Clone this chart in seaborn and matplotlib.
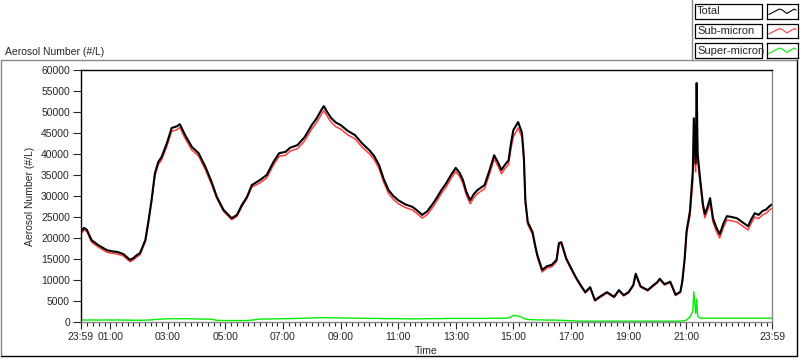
import pandas as pd
import matplotlib
matplotlib.use("Agg")
import matplotlib.pyplot as plt
import matplotlib.dates as mdates
from matplotlib.lines import Line2D
from matplotlib.patches import Rectangle
import seaborn as sns

# clock times (first one is 23:59 of the previous day)
times = ["23:59", "00:05", "00:11", "00:21", "00:35", "00:53", "01:05", "01:14", "01:27", "01:41",
         "01:48", "01:55", "02:02", "02:13", "02:19", "02:26", "02:33", "02:40", "02:47", "02:58",
         "03:08", "03:19", "03:25", "03:36", "03:50", "04:04", "04:18", "04:31", "04:42", "04:56",
         "05:13", "05:24", "05:34", "05:45", "05:55", "06:12", "06:26", "06:40", "06:52", "07:05",
         "07:15", "07:30", "07:45", "08:00", "08:10", "08:20", "08:25", "08:32", "08:40", "08:50",
         "09:00", "09:15", "09:30", "09:45", "10:00", "10:10", "10:20", "10:30", "10:40", "10:50",
         "11:00", "11:15", "11:30", "11:40", "11:50", "12:00", "12:10", "12:20", "12:30", "12:40",
         "12:50", "13:00", "13:08", "13:15", "13:22", "13:30", "13:38", "13:45", "14:00", "14:10",
         "14:20", "14:28", "14:35", "14:43", "14:50", "14:55", "15:00", "15:10", "15:18", "15:22",
         "15:25", "15:30", "15:40", "15:45", "15:50", "16:00", "16:10", "16:20", "16:30", "16:35",
         "16:40", "16:50", "17:00", "17:10", "17:20", "17:30", "17:40", "17:50", "18:00", "18:15",
         "18:30", "18:40", "18:50", "19:00", "19:10", "19:15", "19:25", "19:40", "19:50", "20:00",
         "20:05", "20:15", "20:27", "20:38", "20:48", "20:52", "20:57", "21:01", "21:08", "21:14",
         "21:16", "21:20", "21:22", "21:24", "21:29", "21:35", "21:39", "21:45", "21:50", "21:56",
         "22:03", "22:10", "22:18", "22:25", "22:35", "22:46", "22:57", "23:09", "23:16", "23:23",
         "23:31", "23:39", "23:47", "23:54", "23:59"]

total = [21500, 22400, 22000, 19500, 18300, 17100, 16800, 16700, 16200, 14800,
         15200, 15900, 16400, 19500, 23600, 29000, 35400, 38100, 39300, 42600,
         46200, 46600, 47100, 44500, 41700, 40200, 37000, 33400, 29800, 26700,
         24700, 25500, 27800, 29800, 32600, 33800, 35000, 38100, 40200, 40500,
         41500, 42100, 44000, 46900, 48500, 50500, 51400, 50000, 48600, 47500,
         46900, 45500, 44500, 42500, 40900, 39500, 37400, 34000, 31400, 30000,
         29000, 28000, 27400, 26500, 25500, 26300, 27800, 29500, 31400, 33000,
         35000, 36700, 35500, 33800, 31000, 29000, 30500, 31400, 32600, 36000,
         39700, 38000, 36200, 37500, 38500, 42500, 45700, 47600, 45000, 39000,
         29000, 23800, 21400, 18500, 15900, 12400, 13300, 13600, 14800, 18800,
         19000, 15200, 12900, 10700, 8800, 7100, 8300, 5200, 6000, 7100,
         6000, 7600, 6400, 7100, 8800, 11500, 8500, 7600, 8600, 9500,
         10300, 9000, 9600, 6500, 7200, 9600, 15100, 21600, 26400, 36000,
         48500, 37700, 56900, 40100, 34300, 28100, 25700, 27500, 29500, 24700,
         22500, 20900, 23500, 25200, 25000, 24700, 23800, 22800, 24500, 25900,
         25500, 26400, 26800, 27600, 28000]

sub_micron = [21000, 21900, 21550, 19000, 17850, 16600, 16350, 16200, 15750, 14350,
              14800, 15450, 16000, 19050, 23100, 28500, 34800, 37450, 38600, 41850,
              45400, 45800, 46350, 43700, 40950, 39500, 36300, 32750, 29400, 26350,
              24350, 25150, 27450, 29450, 32150, 33100, 34300, 37350, 39450, 39700,
              40700, 41250, 43100, 45950, 47500, 49450, 50350, 49000, 47600, 46500,
              45950, 44550, 43600, 41600, 40050, 38650, 36550, 33200, 30600, 29200,
              28200, 27250, 26650, 25750, 24750, 25500, 27000, 28700, 30600, 32150,
              34150, 35850, 34650, 32950, 30150, 28150, 29650, 30550, 31750, 35100,
              38800, 37100, 35300, 36600, 37500, 41300, 44100, 46200, 43900, 38100,
              28300, 23200, 20850, 18000, 15400, 11900, 12850, 13150, 14350, 18400,
              18600, 14850, 12600, 10450, 8600, 6900, 8100, 5000, 5800, 6900,
              5800, 7400, 6200, 6900, 8600, 11300, 8300, 7400, 8400, 9300,
              10100, 8800, 9400, 6300, 7000, 9350, 14800, 21100, 25200, 33500,
              41300, 35700, 51400, 38600, 33400, 27200, 24800, 26600, 28600, 23800,
              21600, 20000, 22600, 24300, 24100, 23800, 22900, 21900, 23600, 25000,
              24600, 25500, 25900, 26700, 27100]

super_micron = [500, 500, 450, 500, 450, 500, 450, 500, 450, 450,
                400, 450, 400, 450, 500, 500, 600, 650, 700, 750,
                800, 800, 750, 800, 750, 700, 700, 650, 400, 350,
                350, 350, 350, 350, 450, 700, 700, 750, 750, 800,
                800, 850, 900, 950, 1000, 1050, 1050, 1000, 1000, 1000,
                950, 950, 900, 900, 850, 850, 850, 800, 800, 800,
                800, 750, 750, 750, 750, 800, 800, 800, 800, 850,
                850, 850, 850, 850, 850, 850, 850, 850, 850, 900,
                900, 900, 900, 900, 1000, 1200, 1600, 1400, 1100, 900,
                700, 600, 550, 500, 500, 500, 450, 450, 450, 400,
                400, 350, 300, 250, 200, 200, 200, 200, 200, 200,
                200, 200, 200, 200, 200, 200, 200, 200, 200, 200,
                200, 200, 200, 200, 200, 250, 300, 500, 1200, 2500,
                7200, 2000, 5500, 1500, 900, 900, 900, 900, 900, 900,
                900, 900, 900, 900, 900, 900, 900, 900, 900, 900,
                900, 900, 900, 900, 900]

series_names = ["Total", "Sub-micron", "Super-micron"]
series_colors = ["#000000", "#ff3b3b", "#00ee00"]
x_tick_labels = ["23:59", "01:00", "03:00", "05:00", "07:00", "09:00", "11:00",
                 "13:00", "15:00", "17:00", "19:00", "21:00", "23:59"]
y_ticks = list(range(0, 60001, 5000))

sns.set_style("ticks")
plt.rcParams["font.family"] = ["Liberation Sans", "DejaVu Sans"]
plt.rcParams["font.size"] = 7.5


def stamp_list(labels):
    # first label belongs to the previous day
    return ([pd.Timestamp("2000-01-01 " + labels[0])] +
            [pd.Timestamp("2000-01-02 " + t) for t in labels[1:]])


df = pd.DataFrame({"Time": stamp_list(times), "Total": total,
                   "Sub-micron": sub_micron, "Super-micron": super_micron})
tick_stamps = stamp_list(x_tick_labels)

W, H = 800, 361
fig = plt.figure(figsize=(W / 100, H / 100), dpi=100)
fig.patch.set_facecolor("white")


def fx(x):
    return x / W


def fy(y):
    return 1 - y / H


ax = fig.add_axes([fx(81), fy(322), fx(772) - fx(81), fy(70) - fy(322)])
sns.lineplot(data=df, x="Time", y="Super-micron", color=series_colors[2], lw=1.0, ax=ax)
sns.lineplot(data=df, x="Time", y="Sub-micron", color=series_colors[1], lw=1.1, ax=ax)
sns.lineplot(data=df, x="Time", y="Total", color=series_colors[0], lw=1.5, ax=ax)

ax.set_xlim(tick_stamps[0], tick_stamps[-1])
ax.set_ylim(0, 60000)
ax.set_yticks(y_ticks)
ax.set_xticks(tick_stamps)
ax.xaxis.set_major_formatter(mdates.DateFormatter("%H:%M"))
ax.xaxis.set_minor_locator(mdates.MinuteLocator(byminute=[0, 12, 24, 36, 48]))
ax.tick_params(axis="x", which="major", length=5, width=0.8, pad=2, labelsize=7.5)
ax.tick_params(axis="x", which="minor", length=3, width=0.8)
ax.tick_params(axis="y", which="major", length=6, width=0.8, pad=2, labelsize=7.5)

for side in ["left", "top"]:
    ax.spines[side].set_visible(True)
    ax.spines[side].set_color("black")
    ax.spines[side].set_linewidth(1.0)
for side in ["right", "bottom"]:
    ax.spines[side].set_visible(True)
    ax.spines[side].set_color("#888888")
    ax.spines[side].set_linewidth(1.0)

ax.set_xlabel("Time")
ax.xaxis.set_label_coords(0.5, -0.115)
ax.xaxis.label.set_va("center")
ax.set_ylabel("Aerosol Number (#/L)")
ax.yaxis.set_label_coords((30 - 81) / 691, 0.5)
ax.yaxis.label.set_va("center")

fig.text(fx(5), fy(52), "Aerosol Number (#/L)", ha="left", va="center")

# panel frame
fig.add_artist(Line2D([fx(0.5), fx(797)], [fy(60), fy(60)], color="#888888", lw=1, transform=fig.transFigure))
fig.add_artist(Line2D([fx(0.5), fx(0.5)], [fy(60), fy(356)], color="#888888", lw=1, transform=fig.transFigure))
fig.add_artist(Line2D([fx(797), fx(797)], [fy(60), fy(356)], color="black", lw=1, transform=fig.transFigure))
fig.add_artist(Line2D([fx(0.5), fx(797)], [fy(356), fy(356)], color="black", lw=1, transform=fig.transFigure))
fig.add_artist(Line2D([fx(692), fx(692)], [fy(0), fy(60)], color="#888888", lw=1, transform=fig.transFigure))

# legend boxes
sample_x = [0.06, 0.4, 0.48, 0.64, 0.88, 0.94]
sample_y = [0.28, 0.65, 0.6, 0.35, 0.65, 0.58]
for i, name in enumerate(series_names):
    top = 4 + 19.5 * i
    fig.add_artist(Rectangle((fx(695), fy(top + 14.5)), fx(762) - fx(695), 14.5 / H,
                             facecolor="white", edgecolor="black", lw=0.9, transform=fig.transFigure))
    fig.text(fx(697), fy(top + 7.5), name, ha="left", va="center", fontsize=8)
    sax = fig.add_axes([fx(767), fy(top + 14.5), fx(798) - fx(767), 14.5 / H])
    sax.plot(sample_x, sample_y, color=series_colors[i], lw=0.8)
    sax.set_xlim(0, 1)
    sax.set_ylim(0, 1)
    sax.set_xticks([])
    sax.set_yticks([])
    for sp in sax.spines.values():
        sp.set_visible(True)
        sp.set_color("black")
        sp.set_linewidth(0.9)

fig.savefig("out.png", dpi=100)
